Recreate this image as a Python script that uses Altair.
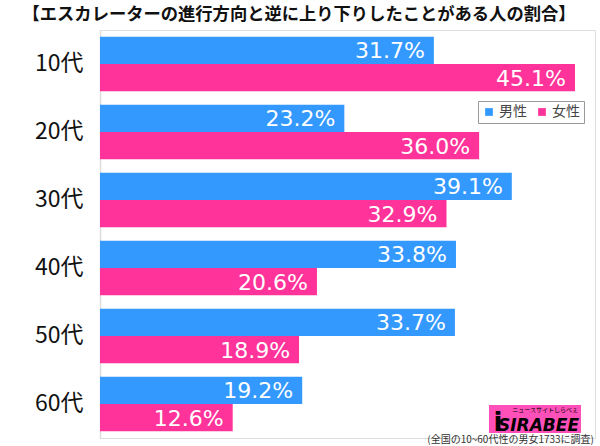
import altair as alt
import pandas as pd

ages = ["10代", "20代", "30代", "40代", "50代", "60代"]
male = [31.7, 23.2, 39.1, 33.8, 33.7, 19.2]
female = [45.1, 36.0, 32.9, 20.6, 18.9, 12.6]
sexes = ["男性", "女性"]
colors = ["#3399FF", "#FF3399"]
title_text = "【エスカレーターの進行方向と逆に上り下りしたことがある人の割合】"
caption_text = "(全国の10~60代性の男女1733に調査)"

rows = []
for a, m, f in zip(ages, male, female):
    rows.append({"age": a, "sex": sexes[0], "value": m, "label": f"{m:.1f}%"})
    rows.append({"age": a, "sex": sexes[1], "value": f, "label": f"{f:.1f}%"})
df = pd.DataFrame(rows)

FONT = "Noto Sans CJK JP"

base = alt.Chart(df).encode(
    y=alt.Y("age:N", sort=ages, title=None,
            scale=alt.Scale(paddingInner=0.2, paddingOuter=0.1),
            axis=alt.Axis(labelFontSize=23, labelColor="#111", labelFont=FONT,
                          ticks=False, labelPadding=17, domainColor="#dddddd",
                          domainWidth=1.5)),
    yOffset=alt.YOffset("sex:N", sort=sexes, scale=alt.Scale(paddingInner=0)),
)

bars = base.mark_bar().encode(
    x=alt.X("value:Q", scale=alt.Scale(domain=[0, 47], nice=False), axis=None),
    color=alt.Color("sex:N", sort=sexes,
                    scale=alt.Scale(domain=sexes, range=colors),
                    legend=alt.Legend(orient="none", legendX=378, legendY=71,
                                      direction="horizontal", title=None,
                                      strokeColor="#999", fillColor="white",
                                      padding=4, labelFontSize=14, labelFont=FONT,
                                      symbolType="square", symbolSize=60,
                                      labelColor="#444", columnPadding=8,
                                      symbolStrokeWidth=0, labelOffset=3)),
)

labels = base.mark_text(align="right", baseline="middle", dx=-9, dy=1,
                        fontSize=22, color="white", font="DejaVu Sans").encode(
    x="value:Q",
    text="label:N",
)

one = pd.DataFrame({"t": [title_text]})
title = alt.Chart(one).mark_text(fontSize=17.3, fontWeight="bold", font=FONT,
                                 color="#111", align="center", baseline="middle").encode(
    x=alt.value(199), y=alt.value(-15), text="t:N")

cap = alt.Chart(pd.DataFrame({"t": [caption_text]})).mark_text(
    fontSize=10, font=FONT, color="#333", align="right", baseline="middle").encode(
    x=alt.value(494), y=alt.value(410), text="t:N")

logo_bg = alt.Chart(one).mark_rect(color="#FF4FB8").encode(
    x=alt.value(389), x2=alt.value(481), y=alt.value(375), y2=alt.value(403))
logo_txt = alt.Chart(pd.DataFrame({"t": ["SIRABEE"]})).mark_text(
    fontSize=17, fontWeight="bold", fontStyle="italic", font="DejaVu Sans",
    color="black", align="right", baseline="alphabetic").encode(
    x=alt.value(479), y=alt.value(401), text="t:N")
logo_i = alt.Chart(pd.DataFrame({"t": ["i"]})).mark_text(
    fontSize=26, fontWeight="bold", font="DejaVu Sans",
    color="black", align="center", baseline="alphabetic").encode(
    x=alt.value(398), y=alt.value(401), text="t:N")
logo_small = alt.Chart(pd.DataFrame({"t": ["ニュースサイトしらべぇ"]})).mark_text(
    fontSize=6, font=FONT, color="black", align="right", baseline="middle").encode(
    x=alt.value(478), y=alt.value(380), text="t:N")

chart = alt.layer(bars, labels, title, cap, logo_bg, logo_txt, logo_i, logo_small).properties(
    width=495, height=408,
    autosize=alt.AutoSizeParams(type="none"),
    padding={"left": 100, "top": 30, "right": 5, "bottom": 8},
).configure_view(stroke=None).configure(background="white")

chart.save("out.html", embed_options={"renderer": "svg", "actions": False})
